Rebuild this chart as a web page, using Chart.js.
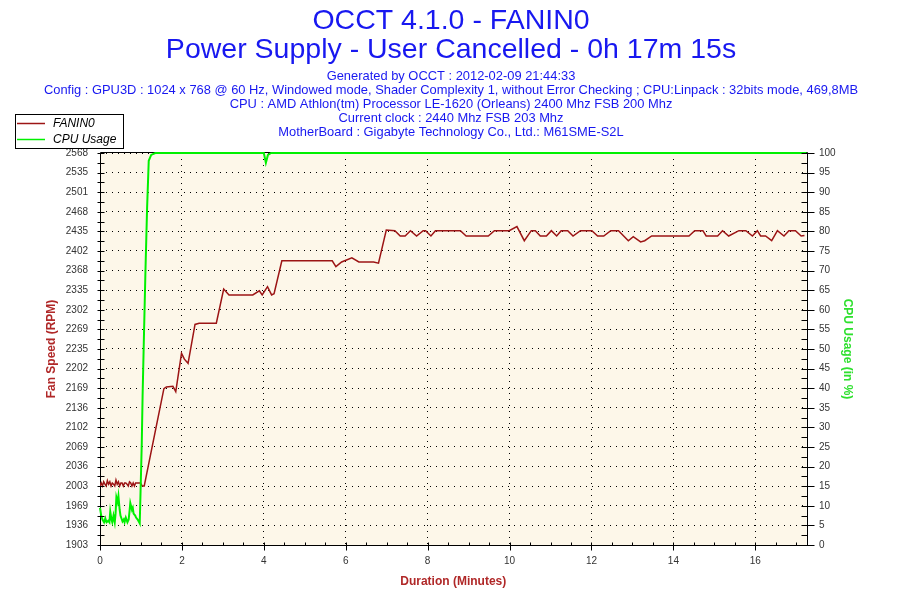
<!DOCTYPE html>
<html><head><meta charset="utf-8">
<script src="https://cdn.jsdelivr.net/npm/chart.js@4.4.0/dist/chart.umd.min.js"></script>
<style>html,body{margin:0;padding:0;background:#fff;}canvas{display:block;}</style>
</head><body>
<canvas id="c" width="900" height="600"></canvas>
<script>
const titleLines = ['OCCT 4.1.0 - FANIN0', 'Power Supply - User Cancelled - 0h 17m 15s'];
const infoLines = [
  'Generated by OCCT : 2012-02-09 21:44:33',
  'Config : GPU3D : 1024 x 768 @ 60 Hz, Windowed mode, Shader Complexity 1, without Error Checking ; CPU:Linpack : 32bits mode, 469,8MB',
  'CPU : AMD Athlon(tm) Processor LE-1620 (Orleans) 2400 Mhz FSB 200 Mhz',
  'Current clock : 2440 Mhz FSB 203 Mhz',
  'MotherBoard : Gigabyte Technology Co., Ltd.: M61SME-S2L'
];
const seriesNames = ['FANIN0', 'CPU Usage'];
const axisTitles = ['Fan Speed (RPM)', 'CPU Usage (in %)', 'Duration (Minutes)'];

const fanTimes = [0.00,0.03,0.06,0.09,0.12,0.15,0.18,0.21,0.24,0.27,0.30,0.33,0.36,0.39,0.42,0.45,0.48,0.51,0.54,0.57,0.60,0.63,0.66,0.69,0.72,0.75,0.78,0.81,0.84,0.87,0.90,0.93,0.96,0.99,1.03,1.08,
  1.56,1.62,1.78,1.85,1.99,2.06,2.15,2.32,2.42,2.84,3.02,3.15,3.73,3.89,3.96,4.09,4.19,4.25,4.44,5.67,5.76,5.90,6.15,6.32,6.68,6.80,6.99,
  7.20,7.33,7.45,7.58,7.73,7.89,7.95,8.08,8.19,8.80,8.94,9.48,9.63,9.99,10.18,10.36,10.53,10.63,10.75,10.90,11.02,11.15,11.26,11.42,11.55,11.73,
  12.01,12.15,12.30,12.47,12.66,12.90,13.02,13.20,13.30,13.47,14.38,14.52,14.72,14.80,15.08,15.20,15.35,15.60,15.77,15.93,16.05,16.13,16.25,16.40,16.54,16.70,16.82,16.98,17.12,17.20];
const fanRpm = [2003,2008,2003,2010,2006,2003,2012,2006,2010,2003,2008,2006,2003,2013,2006,2010,2003,2008,2008,2003,2008,2008,2006,2003,2010,2008,2003,2008,2003,2008,2008,2008,2008,2008,2003,2003,
  2168,2171,2172,2163,2228,2218,2211,2277,2279,2279,2337,2327,2327,2334,2327,2341,2327,2329,2385,2385,2375,2383,2390,2383,2383,2381,2437,
  2436,2427,2427,2436,2427,2436,2436,2427,2436,2436,2427,2427,2436,2436,2443,2419,2436,2436,2427,2427,2436,2427,2436,2436,2427,2436,
  2436,2427,2427,2436,2436,2419,2426,2417,2419,2427,2427,2436,2436,2427,2427,2436,2427,2436,2436,2427,2436,2427,2427,2419,2436,2427,2436,2436,2427,2428];

const cpuTimes = [0.00,0.03,0.06,0.10,0.13,0.16,0.20,0.23,0.25,0.28,0.30,0.33,0.36,0.38,0.40,0.43,0.45,0.48,0.50,0.55,0.58,0.60,0.63,0.67,0.70,0.72,0.74,0.78,0.80,0.82,0.86,0.88,0.92,0.96,0.97,0.99,
  1.02,1.04,1.07,1.11,1.15,1.19,1.25,1.35,4.00,4.05,4.10,4.18,17.25];
const cpuPct = [9.5,7.5,6.5,5.8,6.8,5.8,6.2,5.8,8.5,6.5,5.8,7.5,5.8,8,12.2,11,12.5,9,7.5,6,6.5,5.8,7,5.8,6.5,8.5,10.7,9,9.5,8,7.5,7,6.5,5.7,5.5,13.5,
  26,38,52,70,86,98,99.5,100,100,97.5,99.5,100,100];

const fanTickLabels = ['1903','1936','1969','2003','2036','2069','2102','2136','2169','2202','2235','2269','2302','2335','2368','2402','2435','2468','2501','2535','2568'];
const fanMin = 1902.8, fanStep = 33.25;
const fanMax = fanMin + (fanTickLabels.length - 1) * fanStep;
const cpuMin = 0, cpuMax = 100, cpuStep = 5;
const timeMin = 0, timeMax = 17.25, timeStep = 2;

const FAN_COLOR = '#9c1515', CPU_COLOR = '#00f000';
const TITLE_RED = '#b02828', TITLE_GREEN = '#2ee02e', BLUE = '#1818f0';
const FONT = '"Liberation Sans", Arial, sans-serif';

function seg(ctx, x1, y1, x2, y2) { ctx.beginPath(); ctx.moveTo(x1, y1); ctx.lineTo(x2, y2); ctx.stroke(); }

const decor = {
  id: 'decor',
  beforeDraw(chart) {
    const {ctx, chartArea: a} = chart;
    ctx.save();
    ctx.fillStyle = '#ffffff'; ctx.fillRect(0, 0, chart.width, chart.height);
    ctx.fillStyle = '#fdf7e9'; ctx.fillRect(a.left, a.top, a.right - a.left, a.bottom - a.top);
    ctx.restore();
  },
  beforeDatasetsDraw(chart) {
    const {ctx, chartArea: a} = chart;
    ctx.save(); ctx.strokeStyle = '#000'; ctx.lineWidth = 1;
    const L = Math.round(a.left) + 0.5, R = Math.round(a.right) + 0.5, T = Math.round(a.top) - 0.5, B = Math.round(a.bottom) + 0.5;
    ctx.beginPath(); ctx.moveTo(L, T); ctx.lineTo(R, T); ctx.lineTo(R, B); ctx.lineTo(L, B); ctx.closePath(); ctx.stroke();
    ctx.restore();
  },
  afterDraw(chart) {
    const {ctx, chartArea: a} = chart;
    const sx = chart.scales.x, sy = chart.scales.y, sy1 = chart.scales.y1;
    ctx.save();
    ctx.strokeStyle = '#000'; ctx.lineWidth = 1;
    const L = Math.round(a.left) + 0.5, R = Math.round(a.right) + 0.5, B = Math.round(a.bottom) + 0.5;
    for (let k = 0; k <= (fanTickLabels.length - 1) * 2; k++) {
      const py = Math.round(sy.getPixelForValue(fanMin + k * fanStep / 2)) + 0.5;
      seg(ctx, L - 3, py, L + 4, py);
    }
    for (let k = 0; k <= 40; k++) {
      const py = Math.round(sy1.getPixelForValue(k * cpuStep / 2)) + 0.5;
      if (k % 2 === 0) seg(ctx, R - 6, py, R + 7, py); else seg(ctx, R - 6, py, R, py);
    }
    for (let k = 0; k <= 34; k++) {
      const px = Math.round(sx.getPixelForValue(k * 0.5)) + 0.5;
      if (k % 4 === 0) seg(ctx, px, B - 3, px, B + 5); else seg(ctx, px, B - 3, px, B);
    }
    // header
    ctx.fillStyle = BLUE; ctx.textAlign = 'center'; ctx.textBaseline = 'middle';
    ctx.font = '28.5px ' + FONT;
    ctx.fillText(titleLines[0], 451, 21);
    ctx.fillText(titleLines[1], 451, 50);
    ctx.font = '12.9px ' + FONT;
    infoLines.forEach((t, i) => ctx.fillText(t, 451, 76 + i * 14));
    // legend
    ctx.fillStyle = '#fff'; ctx.fillRect(15.5, 114.5, 108, 34);
    ctx.lineWidth = 1;
    ctx.strokeStyle = '#000'; ctx.strokeRect(15.5, 114.5, 108, 34);
    ctx.lineWidth = 1.5;
    ctx.strokeStyle = FAN_COLOR; seg(ctx, 17, 123.5, 45, 123.5);
    ctx.strokeStyle = CPU_COLOR; seg(ctx, 17, 139.5, 45, 139.5);
    ctx.fillStyle = '#000'; ctx.textAlign = 'left'; ctx.font = 'italic 12px ' + FONT;
    ctx.fillText(seriesNames[0], 53, 123.5);
    ctx.fillText(seriesNames[1], 53, 139.5);
    ctx.restore();
  }
};

const tickFont = {family: FONT, size: 10};
const titleFont = {family: FONT, size: 12, weight: 'bold'};

new Chart(document.getElementById('c'), {
  type: 'line',
  data: {
    datasets: [
      {label: seriesNames[0], yAxisID: 'y', order: 1,
       data: fanTimes.map((t, i) => ({x: t, y: fanRpm[i]})),
       borderColor: FAN_COLOR, borderWidth: 1.5, pointRadius: 0, tension: 0, fill: false},
      {label: seriesNames[1], yAxisID: 'y1', order: 0, clip: 3,
       data: cpuTimes.map((t, i) => ({x: t, y: cpuPct[i]})),
       borderColor: CPU_COLOR, borderWidth: 2, pointRadius: 0, tension: 0, fill: false}
    ]
  },
  options: {
    responsive: false, animation: false, devicePixelRatio: 1,
    layout: {padding: {top: 153, left: 0, right: 0, bottom: 0}},
    plugins: {legend: {display: false}, tooltip: {enabled: false}, title: {display: false}},
    scales: {
      x: {
        type: 'linear', min: timeMin, max: timeMax,
        ticks: {stepSize: timeStep, includeBounds: false, font: tickFont, color: '#333', padding: 10, maxRotation: 0},
        grid: {color: '#000', lineWidth: 1, drawTicks: false},
        border: {display: false, dash: [1, 5]},
        title: {display: true, text: axisTitles[2], color: TITLE_RED, font: titleFont, padding: {top: 0, bottom: 11}},
        afterFit: s => { s.height = 55; }
      },
      y: {
        type: 'linear', position: 'left', min: fanMin, max: fanMax,
        afterBuildTicks: s => { s.ticks = fanTickLabels.map((l, i) => ({value: fanMin + i * fanStep})); },
        ticks: {font: tickFont, color: '#333', padding: 12, callback: (v, i) => fanTickLabels[i]},
        grid: {color: '#000', lineWidth: 1, drawTicks: false},
        border: {display: false, dash: [1, 5]},
        title: {display: true, text: axisTitles[0], color: TITLE_RED, font: titleFont, padding: {top: 44.5, bottom: 0}},
        afterFit: s => { s.width = 100; }
      },
      y1: {
        type: 'linear', position: 'right', min: cpuMin, max: cpuMax,
        ticks: {stepSize: cpuStep, font: tickFont, color: '#333', padding: 12.5},
        grid: {display: false, drawTicks: false},
        border: {display: false},
        title: {display: true, text: axisTitles[1], color: TITLE_GREEN, font: titleFont, padding: {top: 45, bottom: 0}},
        afterFit: s => { s.width = 93.5; }
      }
    }
  },
  plugins: [decor]
});
</script>
</body></html>
